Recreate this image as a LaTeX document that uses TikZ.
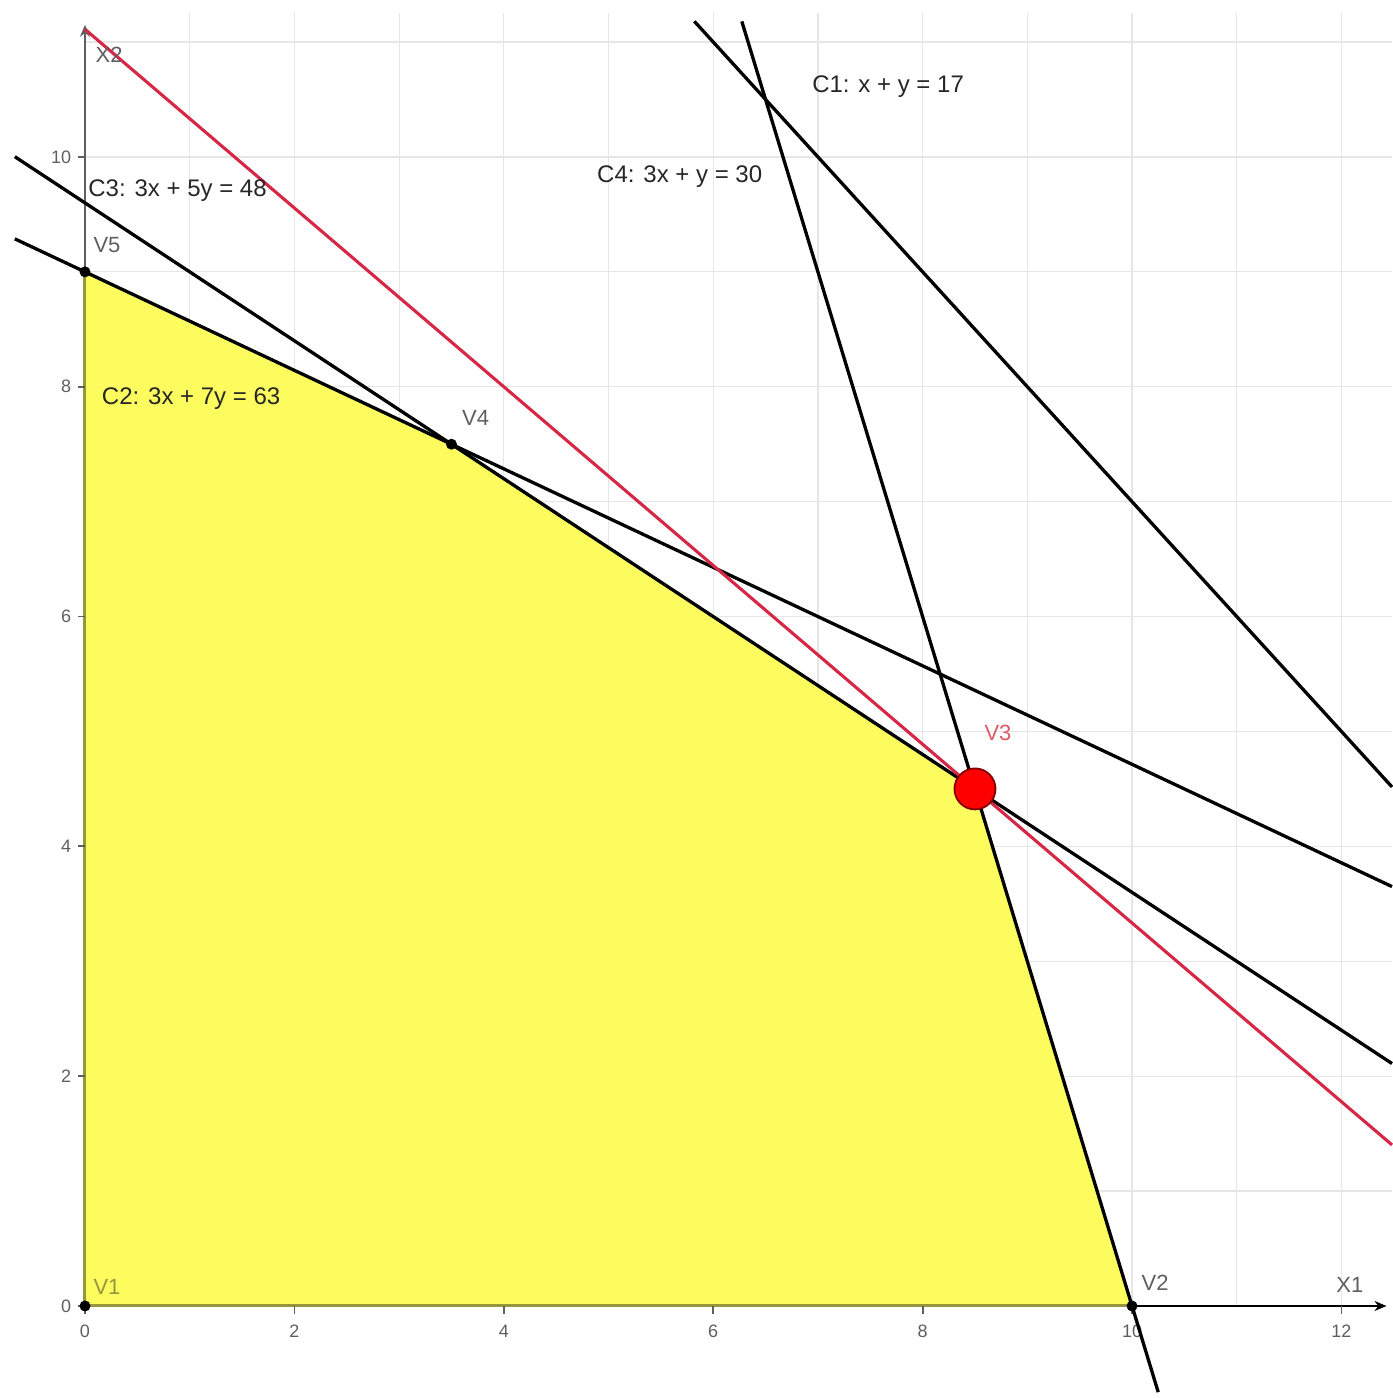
\documentclass[tikz,border=0pt]{standalone}
\usepackage{fontspec}
\setmainfont{Liberation Sans}
\usetikzlibrary{arrows.meta}
\definecolor{fillyellow}{RGB}{252,252,95}
\definecolor{olivec}{RGB}{150,150,60}
\definecolor{objred}{RGB}{214,40,70}
\definecolor{gridgray}{RGB}{230,230,230}
\definecolor{labgray}{RGB}{95,95,95}
\definecolor{vthree}{RGB}{222,90,100}
\begin{document}
\begin{tikzpicture}[x=104.7pt,y=114.9pt,
  cline/.style={line width=3.3pt,black},
  objline/.style={line width=3.1pt,objred},
  axisline/.style={line width=2.6pt,-{Stealth[length=12pt,width=10pt]}},
  vdot/.style={circle,fill=black,inner sep=0pt,minimum size=11pt},
  optdot/.style={circle,fill=red,draw={rgb,255:red,130;green,0;blue,0},line width=1.8pt,inner sep=0pt,minimum size=41pt},
  eqlabel/.style={font=\fontsize{24}{28}\selectfont,text=black!85,inner sep=0pt},
  vlabel/.style={font=\fontsize{22}{26}\selectfont,text=labgray,inner sep=0pt},
  ticklabel/.style={font=\fontsize{18}{22}\selectfont,text=labgray,inner sep=0pt},
  tickmark/.style={line width=1.8pt,labgray}]
\useasboundingbox (-0.8118,-0.8007) rectangle (12.483,11.366);
% grid
\foreach \i in {1,...,12} \draw[gridgray,line width=1.2pt] (\i,0) -- (\i,11.25);
\foreach \j in {1,...,11} \draw[gridgray,line width=1.2pt] (0,\j) -- (12.483,\j);
% vertices
\coordinate (V1) at (0,0);
\coordinate (V2) at (10,0);
\coordinate (V3) at (8.5,4.5);
\coordinate (V4) at (3.5,7.5);
\coordinate (V5) at (0,9);
% feasible region
\fill[fillyellow] (V1) -- (V2) -- (V3) -- (V4) -- (V5) -- cycle;
\draw[olivec,line width=3pt] (V5) -- (V1) -- (V2);
% axes
\coordinate (xtip) at (12.43,0);
\coordinate (ytip) at (0,11.15);
\draw[axisline,labgray] (V5) -- (ytip);
\draw[axisline,black] (V2) -- (xtip);
% ticks and tick labels
\foreach \i in {0,2,...,12} {
  \draw[tickmark] (\i,0) -- (\i,-0.07);
  \node[ticklabel] (xt\i) at (\i,-0.22) {\i};
}
\foreach \j in {0,2,...,10} {
  \draw[tickmark] (0,\j) -- (-0.07,\j);
  \node[ticklabel,anchor=east] (yt\j) at (-0.13,\j) {\j};
}
% constraint lines
\coordinate (C1a) at (5.82,11.18);   \coordinate (C1b) at (12.483,4.517);
\coordinate (C4a) at (6.273,11.18);  \coordinate (C4b) at (10.25,-0.75);
\coordinate (C3a) at (-0.67,10.002); \coordinate (C3b) at (12.483,2.110);
\coordinate (C2a) at (-0.67,9.287);  \coordinate (C2b) at (12.483,3.650);
\coordinate (Ra) at (0,11.111);      \coordinate (Rb) at (12.483,1.402);
\draw[cline] (C1a) -- (C1b);
\draw[cline] (C4a) -- (C4b);
\draw[cline] (C3a) -- (C3b);
\draw[cline] (C2a) -- (C2b);
\draw[objline] (Ra) -- (Rb);
% points
\node[vdot] (P1) at (V1) {};
\node[vdot] (P2) at (V2) {};
\node[vdot] (P4) at (V4) {};
\node[vdot] (P5) at (V5) {};
\node[optdot] (P3) at (V3) {};
% labels
\node[eqlabel] (L1) at (7.67,10.61) {C1: x + y = 17};
\node[eqlabel] (L4) at (5.68,9.83) {C4: 3x + y = 30};
\node[eqlabel,anchor=west] (L3) at (0.03,9.71) {C3: 3x + 5y = 48};
\node[eqlabel,anchor=west] (L2) at (0.16,7.90) {C2: 3x + 7y = 63};
\node[vlabel,anchor=west] (LX2) at (0.1,10.89) {X2};
\node[vlabel] (LX1) at (12.08,0.18) {X1};
\node[vlabel,anchor=west,text=olivec] (LV1) at (0.08,0.165) {V1};
\node[vlabel] (LV2) at (10.22,0.2) {V2};
\node[vlabel,text=vthree] (LV3) at (8.72,4.99) {V3};
\node[vlabel] (LV4) at (3.73,7.73) {V4};
\node[vlabel,anchor=west] (LV5) at (0.08,9.23) {V5};
\end{tikzpicture}
\end{document}
